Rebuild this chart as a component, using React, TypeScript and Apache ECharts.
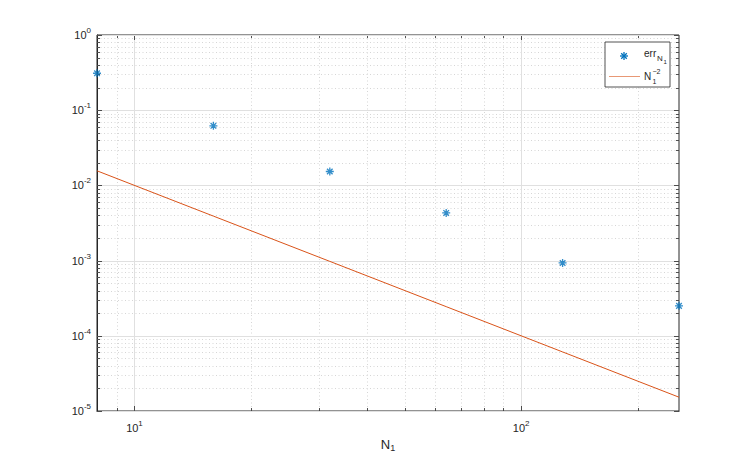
import { useEffect, useRef } from "react";
import * as echarts from "echarts";

// ---- data ----
const nValues = [8, 16, 32, 64, 128, 256];
const errValues = [0.31, 0.062, 0.0153, 0.0043, 0.00093, 0.00025];
const refValues = [0.015625, 0.00390625, 0.0009765625, 0.000244140625, 0.00006103515625, 0.0000152587890625];

// ---- axis ticks ----
const xMin = 8;
const xMax = 256;
const yMin = 1e-5;
const yMax = 1;
const xMajor = [10, 100];
const xMinor = [9, 20, 30, 40, 50, 60, 70, 80, 90, 200];
const yMajor = [1e-5, 1e-4, 1e-3, 1e-2, 1e-1, 1];
const yMantissas = [2, 3, 4, 5, 6, 7, 8, 9];
const yDecades = [1e-5, 1e-4, 1e-3, 1e-2, 1e-1];
const yMinor: number[] = [];
yDecades.forEach((d) => yMantissas.forEach((m) => yMinor.push(m * d)));

const BLUE = "#0072BD";
const ORANGE = "#D95319";
const AXIS = "#262626";
const FONT = "Liberation Sans, Arial, sans-serif";

const ASTERISK = "path://M5,0L5,10M0,5L10,5M1.5,1.5L8.5,8.5M1.5,8.5L8.5,1.5";

function powLabel(v: number): string {
  const e = Math.log10(v);
  const r = Math.round(e);
  if (Math.abs(e - r) > 1e-6) return "";
  return `{b|10}{s|${r}}`;
}

const labelRich = {
  b: { fontSize: 11, color: AXIS, fontFamily: FONT },
  s: { fontSize: 8, color: AXIS, fontFamily: FONT, padding: [0, 0, 9, 0] },
};

function gridSeries(values: number[], dir: "x" | "y", major: boolean) {
  return {
    type: "custom",
    silent: true,
    z: 1,
    data: values.map((v) => (dir === "x" ? [v, 0.5] : [10, v])),
    renderItem: (params: any, api: any) => {
      const cs = params.coordSys;
      const v = api.value(dir === "x" ? 0 : 1);
      const p = api.coord(dir === "x" ? [v, 0.5] : [10, v]);
      const tl = major ? 5 : 3;
      const gridStyle = major
        ? { stroke: "#e0e0e0", lineWidth: 1 }
        : { stroke: "#d6d6d6", lineWidth: 1, lineDash: [1, 2.5] };
      const tickStyle = { stroke: AXIS, lineWidth: 0.8 };
      if (dir === "x") {
        const x = Math.round(p[0]) + 0.5;
        const top = cs.y;
        const bot = cs.y + cs.height;
        return {
          type: "group",
          children: [
            { type: "line", shape: { x1: x, y1: top, x2: x, y2: bot }, style: gridStyle },
            { type: "line", shape: { x1: x, y1: bot, x2: x, y2: bot - tl }, style: tickStyle },
            { type: "line", shape: { x1: x, y1: top, x2: x, y2: top + tl }, style: tickStyle },
          ],
        };
      }
      const y = Math.round(p[1]) + 0.5;
      const left = cs.x;
      const right = cs.x + cs.width;
      return {
        type: "group",
        children: [
          { type: "line", shape: { x1: left, y1: y, x2: right, y2: y }, style: gridStyle },
          { type: "line", shape: { x1: left, y1: y, x2: left + tl, y2: y }, style: tickStyle },
          { type: "line", shape: { x1: right, y1: y, x2: right - tl, y2: y }, style: tickStyle },
        ],
      };
    },
  };
}

export default function App() {
  const ref = useRef<HTMLDivElement>(null);
  useEffect(() => {
    if (!ref.current) return;
    const chart = echarts.init(ref.current, null, { renderer: "svg" });
    const legendX = 605;
    const legendY = 42;
    const ast = (x1: number, y1: number, x2: number, y2: number) => ({
      type: "line",
      z: 12,
      shape: { x1: 624 + x1, y1: 56 + y1, x2: 624 + x2, y2: 56 + y2 },
      style: { stroke: BLUE, lineWidth: 1.3 },
    });
    chart.setOption({
      animation: false,
      backgroundColor: "#ffffff",
      grid: {
        left: 97,
        top: 35,
        right: 71,
        bottom: 51,
        show: true,
        borderColor: AXIS,
        borderWidth: 1,
        backgroundColor: "transparent",
      },
      xAxis: {
        type: "log",
        logBase: 10,
        min: xMin,
        max: xMax,
        axisLine: { show: true, lineStyle: { color: AXIS, width: 1 } },
        axisTick: { show: false },
        splitLine: { show: false },
        axisLabel: {
          margin: 8,
          color: AXIS,
          formatter: (v: number) => powLabel(v),
          rich: labelRich,
          showMinLabel: false,
          showMaxLabel: false,
        },
        name: "{n|N}{s|1}",
        nameLocation: "middle",
        nameGap: 21,
        nameTextStyle: {
          color: AXIS,
          rich: {
            n: { fontSize: 13, color: AXIS, fontFamily: FONT },
            s: { fontSize: 9, color: AXIS, fontFamily: FONT, padding: [8, 0, 0, 0] },
          },
        },
      },
      yAxis: {
        type: "log",
        logBase: 10,
        min: yMin,
        max: yMax,
        axisLine: { show: true, lineStyle: { color: AXIS, width: 1 } },
        axisTick: { show: false },
        splitLine: { show: false },
        axisLabel: {
          margin: 6,
          color: AXIS,
          formatter: (v: number) => powLabel(v),
          rich: labelRich,
        },
      },
      series: [
        gridSeries(xMinor, "x", false),
        gridSeries(yMinor, "y", false),
        gridSeries(xMajor, "x", true),
        gridSeries(yMajor, "y", true),
        {
          type: "line",
          name: "ref",
          data: nValues.map((n, i) => [n, refValues[i]]),
          symbol: "none",
          lineStyle: { color: ORANGE, width: 1 },
          z: 3,
          silent: true,
        },
        {
          type: "scatter",
          name: "err",
          data: nValues.map((n, i) => [n, errValues[i]]),
          symbol: ASTERISK,
          symbolSize: 8,
          clip: false,
          itemStyle: { color: BLUE, borderColor: BLUE, borderWidth: 1.3 },
          z: 4,
          silent: true,
        },
      ],
      graphic: [
        {
          type: "rect",
          z: 10,
          shape: { x: legendX, y: legendY, width: 65, height: 45 },
          style: { fill: "#ffffff", stroke: AXIS, lineWidth: 0.8 },
        },
        ast(-4, 0, 4, 0),
        ast(0, -4, 0, 4),
        ast(-2.8, -2.8, 2.8, 2.8),
        ast(-2.8, 2.8, 2.8, -2.8),
        {
          type: "line",
          z: 12,
          shape: { x1: 609, y1: 76.5, x2: 640, y2: 76.5 },
          style: { stroke: ORANGE, lineWidth: 1, opacity: 0.6 },
        },
        {
          type: "text", z: 12, x: 644, y: 53,
          style: { text: "err", fontSize: 10, fontFamily: FONT, fill: AXIS, verticalAlign: "middle" },
        },
        {
          type: "text", z: 12, x: 657, y: 58,
          style: { text: "N", fontSize: 8, fontFamily: FONT, fill: AXIS, verticalAlign: "middle" },
        },
        {
          type: "text", z: 12, x: 663.5, y: 62,
          style: { text: "1", fontSize: 6, fontFamily: FONT, fill: AXIS, verticalAlign: "middle" },
        },
        {
          type: "text", z: 12, x: 644, y: 76,
          style: { text: "N", fontSize: 10, fontFamily: FONT, fill: AXIS, verticalAlign: "middle" },
        },
        {
          type: "text", z: 12, x: 652.5, y: 71,
          style: { text: "−2", fontSize: 7, fontFamily: FONT, fill: AXIS, verticalAlign: "middle" },
        },
        {
          type: "text", z: 12, x: 652.5, y: 81,
          style: { text: "1", fontSize: 7, fontFamily: FONT, fill: AXIS, verticalAlign: "middle" },
        },
      ],
    });
    return () => chart.dispose();
  }, []);
  return <div ref={ref} style={{ width: 750, height: 462, position: "absolute", left: 0, top: 0 }} />;
}
